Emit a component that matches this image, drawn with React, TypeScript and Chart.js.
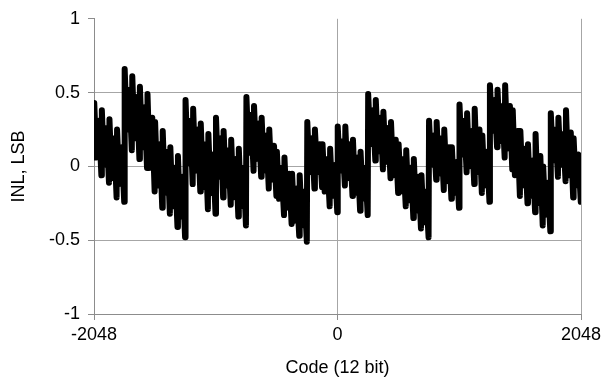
import React, { useEffect, useRef } from "react";
import { Chart, registerables } from "chart.js";

Chart.register(...registerables);

// Per 64-code segment ("tooth"): top spike, lower mid, upper mid and bottom spike
const TOPS = [
  0.43, 0.38, 0.32, 0.25,
  0.66, 0.61, 0.54, 0.49, 0.30, 0.24, 0.13, 0.07,
  0.45, 0.39, 0.29, 0.22, 0.33, 0.24, 0.18, 0.12,
  0.47, 0.41, 0.33, 0.25, 0.10, 0.06, -0.05, -0.06,
  0.30, 0.25, 0.15, 0.12, 0.27, 0.27, 0.18, 0.10,
  0.49, 0.45, 0.37, 0.30, 0.15, 0.11, 0.05, -0.06,
  0.31, 0.30, 0.25, 0.13, 0.42, 0.36, 0.39, 0.21,
  0.55, 0.52, 0.55, 0.38, 0.24, 0.15, 0.22, 0.00,
  0.36, 0.33, 0.38, 0.19,
];
const MID_LOW = [
  0.06, 0.01, -0.08, -0.12,
  0.25, 0.19, 0.13, -0.01, -0.13, -0.18, -0.27, -0.34,
  0.02, -0.03, -0.14, -0.18, -0.07, -0.13, -0.21, -0.27,
  0.09, 0.05, -0.03, -0.09, -0.22, -0.28, -0.37, -0.40,
  -0.04, -0.04, -0.17, -0.20, -0.03, -0.08, -0.18, -0.22,
  0.15, 0.10, 0.03, -0.06, -0.17, -0.23, -0.30, -0.38,
  0.01, -0.05, -0.10, -0.18, 0.08, 0.00, -0.04, -0.13,
  0.24, 0.17, 0.12, -0.06, -0.13, -0.20, -0.25, -0.33,
  0.04, 0.01, -0.06, -0.13,
];
const MID_HIGH = [
  0.31, 0.26, 0.19, 0.13,
  0.52, 0.47, 0.40, 0.33, 0.15, 0.10, -0.01, -0.07,
  0.31, 0.25, 0.15, 0.08, 0.19, 0.11, 0.05, -0.01,
  0.35, 0.29, 0.21, 0.14, -0.01, -0.05, -0.15, -0.17,
  0.19, 0.15, 0.05, 0.01, 0.17, 0.15, 0.06, -0.01,
  0.38, 0.33, 0.26, 0.18, 0.05, -0.01, -0.07, -0.17,
  0.21, 0.19, 0.13, 0.03, 0.31, 0.24, 0.25, 0.10,
  0.45, 0.41, 0.41, 0.24, 0.12, 0.04, 0.07, -0.11,
  0.25, 0.22, 0.23, 0.08,
];
const BOTTOMS = [
  -0.06, -0.11, -0.21, -0.24,
  0.11, 0.05, -0.01, -0.17, -0.28, -0.32, -0.41, -0.48,
  -0.12, -0.17, -0.29, -0.32, -0.21, -0.26, -0.34, -0.40,
  -0.03, -0.07, -0.15, -0.20, -0.33, -0.39, -0.47, -0.51,
  -0.15, -0.14, -0.27, -0.31, -0.13, -0.20, -0.30, -0.33,
  0.04, -0.02, -0.08, -0.18, -0.27, -0.35, -0.42, -0.48,
  -0.09, -0.16, -0.22, -0.28, -0.04, -0.12, -0.18, -0.24,
  0.13, 0.06, -0.02, -0.20, -0.25, -0.31, -0.40, -0.44,
  -0.07, -0.10, -0.21, -0.24,
];
const START_VALUE = 0.06;

const X_TICKS = [-2048, 0, 2048];
const Y_TICKS = [-1, -0.5, 0, 0.5, 1];
const X_TITLE = "Code (12 bit)";
const Y_TITLE = "INL, LSB";

const CODE_MIN = -2048;
const CODE_MAX = 2048;
const TOOTH = 64;
const OFFSETS = [2, 20, 42, 62];

function buildPoints() {
  const pts: { x: number; y: number }[] = [{ x: CODE_MIN, y: START_VALUE }];
  for (let k = 0; k < TOPS.length; k++) {
    const c = CODE_MIN + k * TOOTH;
    pts.push({ x: c + OFFSETS[0], y: TOPS[k] });
    pts.push({ x: c + OFFSETS[1], y: MID_LOW[k] });
    pts.push({ x: c + OFFSETS[2], y: MID_HIGH[k] });
    pts.push({ x: c + OFFSETS[3], y: BOTTOMS[k] });
  }
  return pts;
}

const FONT = { family: "'Liberation Sans', Arial, sans-serif", size: 18 };
const GRID = "#a6a6a6";
const AXIS = "#8c8c8c";

export default function App() {
  const ref = useRef<HTMLCanvasElement | null>(null);
  useEffect(() => {
    if (!ref.current) return;
    const chart = new Chart(ref.current, {
      type: "line",
      data: {
        datasets: [
          {
            data: buildPoints(),
            borderColor: "#000",
            borderWidth: 6,
            pointRadius: 0,
            tension: 0,
            borderJoinStyle: "round",
            borderCapStyle: "round",
            fill: false,
          },
        ],
      },
      options: {
        animation: false,
        responsive: true,
        maintainAspectRatio: false,
        layout: { padding: { left: 0, top: 18, right: 26, bottom: 0 } },
        plugins: { legend: { display: false }, tooltip: { enabled: false } },
        scales: {
          x: {
            type: "linear",
            min: CODE_MIN,
            max: CODE_MAX,
            afterBuildTicks: (s: any) => {
              s.ticks = X_TICKS.map((v) => ({ value: v }));
            },
            afterFit: (s: any) => {
              s.height = 66;
            },
            ticks: {
              color: "#000",
              font: FONT,
              padding: 4,
              maxRotation: 0,
              autoSkip: false,
              callback: (v: any) => String(v),
            },
            grid: {
              color: GRID,
              tickColor: AXIS,
              tickLength: 6,
              lineWidth: 1,
            },
            border: { color: AXIS, width: 1 },
            title: {
              display: true,
              text: X_TITLE,
              color: "#000",
              font: FONT,
              padding: { top: 0, bottom: 1 },
            },
          },
          y: {
            type: "linear",
            min: -1,
            max: 1,
            afterBuildTicks: (s: any) => {
              s.ticks = Y_TICKS.map((v) => ({ value: v }));
            },
            afterFit: (s: any) => {
              s.width = 94;
            },
            ticks: {
              color: "#000",
              font: FONT,
              padding: 8,
              callback: (v: any) => String(v),
            },
            grid: {
              color: (ctx: any) =>
                ctx.tick && (ctx.tick.value === 1 || ctx.tick.value === -1) ? "rgba(0,0,0,0)" : GRID,
              tickColor: AXIS,
              tickLength: 6,
              lineWidth: 1,
            },
            border: { color: AXIS, width: 1 },
            title: {
              display: true,
              text: Y_TITLE,
              color: "#000",
              font: FONT,
              padding: { top: 8, bottom: 0 },
            },
          },
        },
      },
    });
    return () => chart.destroy();
  }, []);
  return (
    <div style={{ position: "fixed", left: 0, top: 0, width: 607, height: 380, background: "#fff" }}>
      <canvas ref={ref} />
    </div>
  );
}
